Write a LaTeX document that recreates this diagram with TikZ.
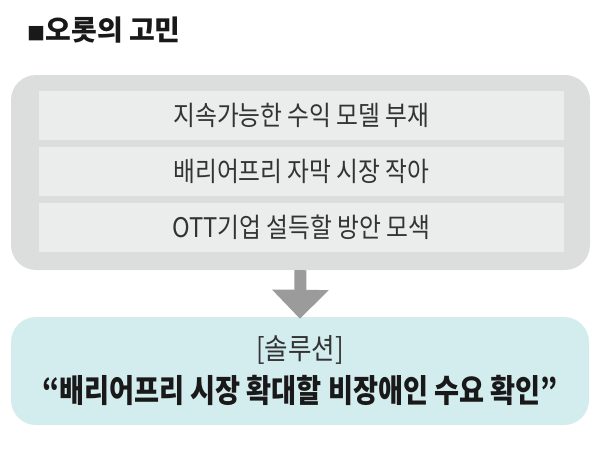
\documentclass[tikz,border=0pt]{standalone}
\usepackage{fontspec}
\setmainfont{Noto Sans CJK KR}
\newfontfamily\barfont{Noto Sans CJK KR}[FakeStretch=0.88]
\newfontfamily\solfont{Noto Sans CJK KR}[FakeStretch=0.85]
\usetikzlibrary{arrows.meta,positioning}
\definecolor{outergray}{HTML}{DCDDDD}
\definecolor{bargray}{HTML}{EBECEC}
\definecolor{arrowgray}{HTML}{9B9B9B}
\definecolor{solcyan}{HTML}{D3ECEE}
\definecolor{textgray}{HTML}{333333}
\tikzstyle{panel}=[rectangle,rounded corners=25pt,inner sep=0pt]
\tikzstyle{bar}=[rectangle,fill=bargray,minimum width=525pt,minimum height=49pt,inner sep=0pt,text=textgray,font=\barfont\fontsize{27}{31}\selectfont]
\tikzstyle{flow}=[draw=arrowgray,line width=12pt,-{Triangle[width=55pt,length=29pt]}]

\begin{document}
\begin{tikzpicture}[x=1pt,y=-1pt]
    \useasboundingbox (0,0) rectangle (600,456);

    \node[anchor=west,text=black!90,font=\fontsize{28}{32}\selectfont\bfseries] (title) at (24,30)
        {{\fontsize{18}{18}\selectfont ■}오롯의 고민};

    \node[panel,fill=outergray,minimum width=579pt,minimum height=195pt] (worry) at (300.5,172.5) {};

    \foreach \pos/ \name/ \text in {{(301.5,115.5)/b1/지속가능한 수익 모델 부재},
        {(301.5,171.5)/b2/배리어프리 자막 시장 작아}, {(301.5,227.5)/b3/OTT기업 설득할 방안 모색}}
        \node[bar] (\name) at \pos {\text};

    \node[panel,fill=solcyan,minimum width=578pt,minimum height=108pt] (sol) at (300,371) {};
    \node[text=textgray,font=\barfont\fontsize{29}{33}\selectfont] (soltag) at (300,350) {[솔루션]};
    \node[text=black!90,font=\solfont\fontsize{32}{36}\selectfont\bfseries] (solline) at (300,390)
        {“배리어프리 시장 확대할 비장애인 수요 확인”};

    % from worries to solution
    \draw[flow] (worry.south) -- ([yshift=-2pt]sol.north);
\end{tikzpicture}
\end{document}
